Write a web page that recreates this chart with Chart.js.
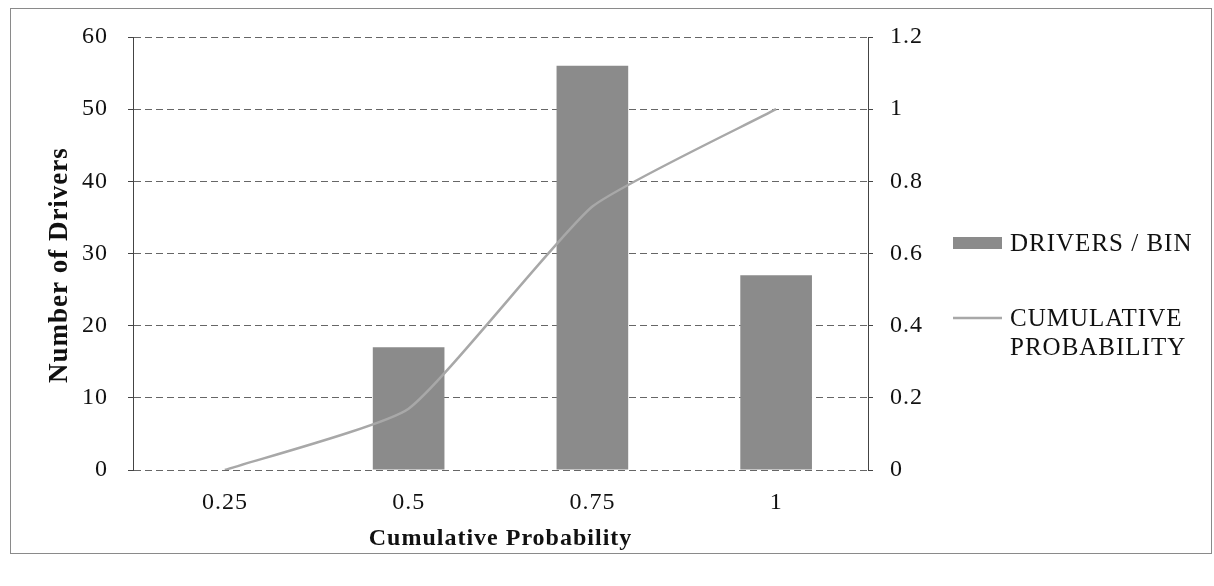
<!DOCTYPE html>
<html>
<head>
<meta charset="utf-8">
<script src="https://cdn.jsdelivr.net/npm/chart.js@4/dist/chart.umd.min.js"></script>
<style>
  html, body { margin: 0; padding: 0; background: #fff; }
  #wrap { width: 1214px; height: 586px; }
</style>
</head>
<body>
<div id="wrap"><canvas id="c" width="1214" height="586"></canvas></div>
<script>
// Bin labels along the x axis
const categories = ['0.25', '0.5', '0.75', '1'];
// Number of drivers falling in each bin
const driversPerBin = [0, 17, 56, 27];
// Running share of drivers up to each bin
const cumulativeProbability = [0, 0.17, 0.73, 1.0];
// Axis ticks
const leftTicks = [0, 10, 20, 30, 40, 50, 60];
const rightTicks = [0, 0.2, 0.4, 0.6, 0.8, 1, 1.2];
const rightTickLabels = ['0', '0.2', '0.4', '0.6', '0.8', '1', '1.2'];
// Legend entries
const legendBars = ['DRIVERS / BIN'];
const legendLine = ['CUMULATIVE', 'PROBABILITY'];

const SERIF = '"Liberation Serif", "Times New Roman", serif';
const BAR_COLOR = '#8b8b8b';
const LINE_COLOR = '#a8a8a8';

// Slightly spaced lettering for all canvas text
const spacing = {
  id: 'spacing',
  beforeLayout(chart) { chart.ctx.letterSpacing = '1px'; },
  beforeDraw(chart) { chart.ctx.letterSpacing = '1px'; }
};

// Outer frame around the chart
const framePlugin = {
  id: 'frame',
  beforeDraw(chart) {
    const ctx = chart.ctx;
    ctx.save();
    ctx.fillStyle = '#fff';
    ctx.fillRect(0, 0, chart.width, chart.height);
    ctx.strokeStyle = '#8a8a8a';
    ctx.lineWidth = 1;
    ctx.strokeRect(10.5, 8.5, 1201, 545);
    ctx.restore();
  }
};

// Legend drawn to the right of the plot
const sideLegend = {
  id: 'sideLegend',
  afterDraw(chart) {
    const ctx = chart.ctx;
    const a = chart.chartArea;
    const sx = a.right + 85, sw = 49, tx = a.right + 142;
    const y1 = a.top + 206, y2 = a.top + 281, lh = 29;
    ctx.save();
    ctx.fillStyle = BAR_COLOR;
    ctx.fillRect(sx, y1 - 6, sw, 12);
    ctx.strokeStyle = LINE_COLOR;
    ctx.lineWidth = 2.5;
    ctx.beginPath();
    ctx.moveTo(sx, y2);
    ctx.lineTo(sx + sw, y2);
    ctx.stroke();
    ctx.fillStyle = '#111';
    ctx.font = '25px ' + SERIF;
    ctx.letterSpacing = '1px';
    ctx.textBaseline = 'middle';
    ctx.textAlign = 'left';
    legendBars.forEach((t, i) => ctx.fillText(t, tx, y1 + 1 + i * lh));
    legendLine.forEach((t, i) => ctx.fillText(t, tx, y2 + 1 + i * lh));
    ctx.restore();
  }
};

const tickFont = { family: SERIF, size: 24 };

// Vertical axes keep a fixed width and no extra label overflow at the ends
function fixVertical(width) {
  return (s) => { s.width = width; s.paddingTop = 0; s.paddingBottom = 0; };
}

new Chart(document.getElementById('c'), {
  data: {
    labels: categories,
    datasets: [
      {
        type: 'line',
        label: legendLine.join(' '),
        data: cumulativeProbability,
        yAxisID: 'y1',
        borderColor: LINE_COLOR,
        borderWidth: 2.5,
        pointRadius: 0,
        tension: 0.15,
        order: 0
      },
      {
        type: 'bar',
        label: legendBars[0],
        data: driversPerBin,
        yAxisID: 'y',
        backgroundColor: BAR_COLOR,
        categoryPercentage: 1,
        barPercentage: 0.39,
        order: 1
      }
    ]
  },
  options: {
    responsive: false,
    animation: false,
    layout: { padding: { top: 37, left: 0, right: 0, bottom: 0 } },
    plugins: { legend: { display: false }, tooltip: { enabled: false } },
    scales: {
      x: {
        type: 'category',
        offset: true,
        grid: { display: false },
        border: { display: false },
        ticks: { font: tickFont, color: '#111', padding: 10, maxRotation: 0 },
        title: {
          display: true, text: 'Cumulative Probability',
          font: { family: SERIF, size: 24, weight: 'bold' }, color: '#111',
          padding: { top: 0, bottom: 33 }
        },
        afterFit(s) { s.height = 116; s.paddingLeft = 0; s.paddingRight = 0; }
      },
      y: {
        position: 'left',
        min: 0, max: 60,
        afterBuildTicks(s) { s.ticks = leftTicks.map(v => ({ value: v })); },
        grid: { color: '#666', lineWidth: 1, tickLength: 5, tickColor: '#444' },
        border: { display: true, color: '#444', width: 1, dash: [7, 4] },
        ticks: { font: tickFont, color: '#111', padding: 20 },
        title: {
          display: true, text: 'Number of Drivers   ',
          font: { family: SERIF, size: 27, weight: 'bold' }, color: '#111',
          padding: { top: 44, bottom: 0 }
        },
        afterFit: fixVertical(133)
      },
      y1: {
        position: 'right',
        min: 0, max: 1.2,
        afterBuildTicks(s) { s.ticks = rightTicks.map(v => ({ value: v })); },
        grid: { drawOnChartArea: false, tickLength: 5, tickColor: '#444' },
        border: { display: true, color: '#444', width: 1 },
        ticks: {
          font: tickFont, color: '#111', padding: 17,
          callback: (v, i) => rightTickLabels[i]
        },
        afterFit: fixVertical(346)
      }
    }
  },
  plugins: [spacing, framePlugin, sideLegend]
});
</script>
</body>
</html>
